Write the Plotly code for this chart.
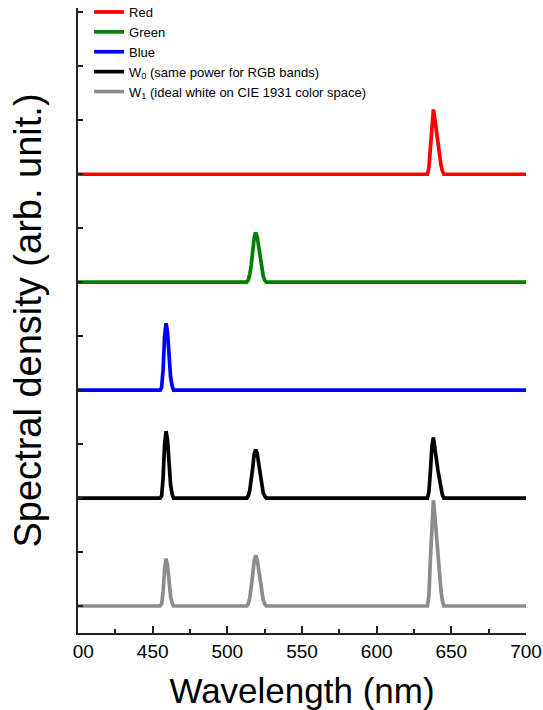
import plotly.graph_objects as go

# Wavelength sample points (nm)
wavelength = [400,
              455, 456, 457, 458, 459, 460, 461, 462, 463, 464,
              513, 514, 515, 516, 517, 518, 519, 520, 521, 522, 523, 524, 525, 526,
              634, 635, 636, 637, 638, 639, 640, 641, 642, 643, 644, 645,
              700]

zb = [0] * 10
zg = [0] * 14
zr = [0] * 12

red_vals = [0] + zb + zg + [0, .06, .27, .51, .60, .51, .39, .28, .18, .09, .03, 0] + [0]
green_vals = [0] + zb + [0, .02, .07, .16, .29, .41, .46, .42, .33, .22, .12, .06, .02, 0] + zr + [0]
blue_vals = [0] + [0, .025, .19, .50, .62, .53, .31, .12, .04, 0] + zg + zr + [0]
w0_vals = ([0] + [0, .02, .19, .50, .62, .53, .31, .12, .04, 0]
           + [0, .02, .07, .16, .28, .41, .45, .41, .32, .22, .12, .05, .02, 0]
           + [0, .06, .25, .48, .56, .48, .36, .26, .17, .08, .03, 0] + [0])
w1_vals = ([0] + [0, .02, .13, .35, .44, .37, .22, .09, .03, 0]
           + [0, .02, .07, .16, .29, .42, .47, .43, .34, .23, .13, .06, .02, 0]
           + [0, .10, .44, .83, .98, .83, .64, .46, .29, .15, .05, 0] + [0])

series_names = ["Red", "Green", "Blue",
                "W<sub>0</sub> (same power for RGB bands)",
                "W<sub>1</sub> (ideal white on CIE 1931 color space)"]
series_values = [red_vals, green_vals, blue_vals, w0_vals, w1_vals]
series_offsets = [4, 3, 2, 1, 0]
series_colors = ["#FF0000", "#008000", "#0000FF", "#000000", "#8C8C8C"]

x_tickvals = [400, 450, 500, 550, 600, 650, 700]
x_ticktext = ["\u00a0\u00a000", "450", "500", "550", "600", "650", "700"]

FONT = "Arial, Liberation Sans, sans-serif"

fig = go.Figure()
for name, vals, off, col in zip(series_names, series_values, series_offsets, series_colors):
    fig.add_trace(go.Scatter(
        x=wavelength, y=[v + off for v in vals], mode="lines", name=name,
        line=dict(color=col, width=3.7, shape="linear"),
    ))

fig.update_layout(
    width=543, height=710,
    margin=dict(l=78, r=17, t=8, b=77, autoexpand=False),
    paper_bgcolor="white", plot_bgcolor="white",
    font=dict(family=FONT, color="#000000"),
    showlegend=True,
    legend=dict(x=0.0247, y=1.0176, xanchor="left", yanchor="top",
                bgcolor="rgba(0,0,0,0)", font=dict(size=13, family=FONT),
                itemwidth=30, tracegroupgap=0),
    xaxis=dict(range=[400, 700], tickvals=x_tickvals, ticktext=x_ticktext,
               ticks="inside", ticklen=7, tickwidth=1.5, tickcolor="#222",
               showline=True, linecolor="#222", linewidth=1.5,
               showgrid=False, zeroline=False, automargin=False,
               tickfont=dict(size=19, family=FONT),
               minor=dict(dtick=25, tick0=400, ticks="inside", ticklen=4,
                          tickwidth=1.5, tickcolor="#222"),
               title=dict(text="Wavelength (nm)", font=dict(size=35, family=FONT),
                          standoff=29)),
    yaxis=dict(range=[-0.25, 5.54], tick0=0, dtick=0.5,
               ticks="inside", ticklen=5, tickwidth=1.5, tickcolor="#222",
               showticklabels=False, automargin=False,
               showline=True, linecolor="#222", linewidth=1.5,
               showgrid=False, zeroline=False,
               title=dict(text="Spectral density (arb. unit.)",
                          font=dict(size=38, family=FONT), standoff=23)),
)

fig.write_html("out.html",
               config={"displayModeBar": False},
               post_script="document.body.style.margin='0';"
                           "document.body.style.overflow='hidden';")
